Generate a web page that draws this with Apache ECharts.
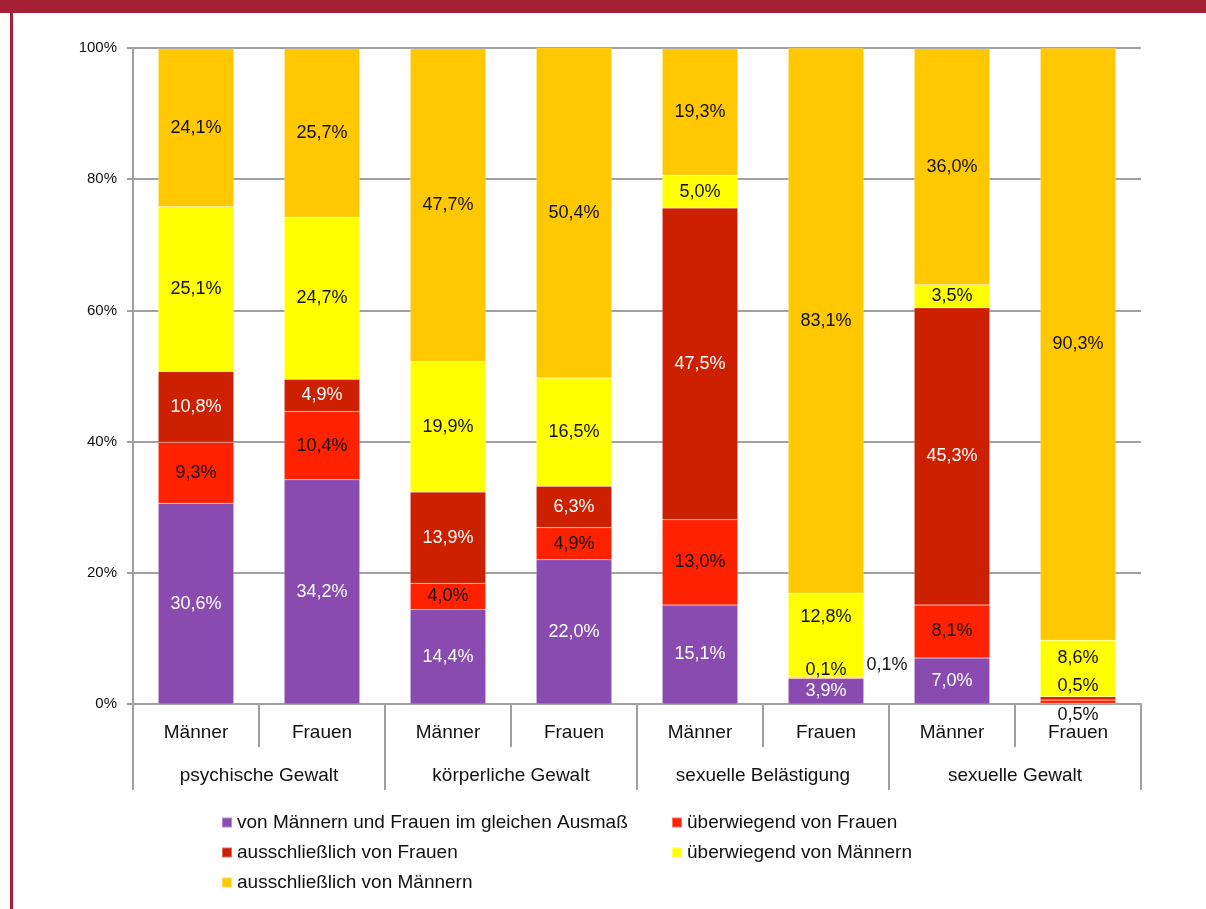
<!DOCTYPE html>
<html>
<head>
<meta charset="utf-8">
<script src="https://cdn.jsdelivr.net/npm/echarts@6/dist/echarts.min.js"></script>
<style>
  html, body { margin: 0; padding: 0; background: #fff; }
  #main { width: 1206px; height: 909px; }
</style>
</head>
<body>
<div id="main"></div>
<script>
// Kategorien (untere und obere Ebene)
var persons = ['Männer', 'Frauen', 'Männer', 'Frauen', 'Männer', 'Frauen', 'Männer', 'Frauen'];
var groups = ['psychische Gewalt', 'körperliche Gewalt', 'sexuelle Belästigung', 'sexuelle Gewalt'];
var yTicks = [0, 20, 40, 60, 80, 100];

var seriesNames = [
    'von Männern und Frauen im gleichen Ausmaß',
    'überwiegend von Frauen',
    'ausschließlich von Frauen',
    'überwiegend von Männern',
    'ausschließlich von Männern'
];

// Werte in %
var gleich = [30.6, 34.2, 14.4, 22.0, 15.1, 3.9, 7.0, 0.1];
var ueberwFrauen = [9.3, 10.4, 4.0, 4.9, 13.0, 0.1, 8.1, 0.5];
var ausschlFrauen = [10.8, 4.9, 13.9, 6.3, 47.5, 0.1, 45.3, 0.5];
var ueberwMaenner = [25.1, 24.7, 19.9, 16.5, 5.0, 12.8, 3.5, 8.6];
var ausschlMaenner = [24.1, 25.7, 47.7, 50.4, 19.3, 83.1, 36.0, 90.3];

var values = [gleich, ueberwFrauen, ausschlFrauen, ueberwMaenner, ausschlMaenner];
var colors = ['#8A4BB1', '#FF2200', '#CC2000', '#FFFF00', '#FFC800'];
var labelColors = ['#ffffff', '#111111', '#ffffff', '#111111', '#111111'];

// einzelne Beschriftungen wurden im Original verschoben
var labelTweaks = {
    '0-7': { show: false },
    '1-5': { offset: [0, -8] },
    '2-5': { offset: [61, -12], color: '#111111' },
    '3-5': { offset: [0, -18] },
    '1-7': { offset: [0, 13] },
    '2-7': { offset: [0, -12], color: '#111111' },
    '3-7': { offset: [0, -11] }
};

var font = 'Liberation Sans, Arial, sans-serif';
var gray = '#A0A0A0';

function fmt(v) {
    return v.toFixed(1).replace('.', ',') + '%';
}

var series = values.map(function(arr, s) {
    return {
        name: seriesNames[s],
        type: 'bar',
        stack: 'total',
        barWidth: '60%',
        itemStyle: {
            color: colors[s],
            borderColor: 'rgba(255,255,255,0.35)',
            borderWidth: 0.5
        },
        label: {
            show: true,
            position: 'inside',
            color: labelColors[s],
            fontFamily: font,
            fontSize: 18,
            formatter: function(p) { return fmt(p.value); }
        },
        data: arr.map(function(v, i) {
            var t = labelTweaks[s + '-' + i];
            return t ? { value: v, label: t } : v;
        })
    };
});

var legendText = { fontSize: 19, color: '#111', fontFamily: font };

var chart = echarts.init(document.getElementById('main'));
chart.setOption({
    animation: false,
    textStyle: { fontFamily: font },
    grid: { left: 133, right: 65, top: 48, bottom: 205 },
    graphic: [
        { type: 'rect', shape: { x: 0, y: 0, width: 1206, height: 13 }, style: { fill: '#A51F35' } },
        { type: 'rect', shape: { x: 10, y: 13, width: 3, height: 896 }, style: { fill: '#A51F35' } }
    ],
    legend: [{
        data: [seriesNames[0], seriesNames[2], seriesNames[4]],
        orient: 'vertical',
        left: 216,
        top: 808,
        itemGap: 11,
        itemWidth: 10,
        itemHeight: 10,
        icon: 'rect',
        textStyle: legendText
    }, {
        data: [seriesNames[1], seriesNames[3]],
        orient: 'vertical',
        left: 666,
        top: 808,
        itemGap: 11,
        itemWidth: 10,
        itemHeight: 10,
        icon: 'rect',
        textStyle: legendText
    }],
    xAxis: [{
        type: 'category',
        data: persons,
        position: 'bottom',
        axisLine: { lineStyle: { color: gray, width: 2 } },
        axisTick: { show: true, length: 43, interval: 0, lineStyle: { color: gray, width: 2 } },
        axisLabel: { interval: 0, margin: 19, fontSize: 19, color: '#111' }
    }, {
        type: 'category',
        data: groups,
        position: 'bottom',
        axisLine: { show: false },
        axisTick: { show: true, length: 86, interval: 0, lineStyle: { color: gray, width: 2 } },
        axisLabel: { interval: 0, margin: 62, fontSize: 19, color: '#111' }
    }],
    yAxis: {
        type: 'value',
        min: yTicks[0],
        max: yTicks[yTicks.length - 1],
        interval: 20,
        axisLine: { show: true, lineStyle: { color: gray, width: 2 } },
        axisTick: { show: true, length: 6, lineStyle: { color: gray, width: 2 } },
        axisLabel: { margin: 16, fontSize: 15, color: '#111', formatter: '{value}%' },
        splitLine: { lineStyle: { color: gray, width: 2 } }
    },
    series: series
});
</script>
</body>
</html>
